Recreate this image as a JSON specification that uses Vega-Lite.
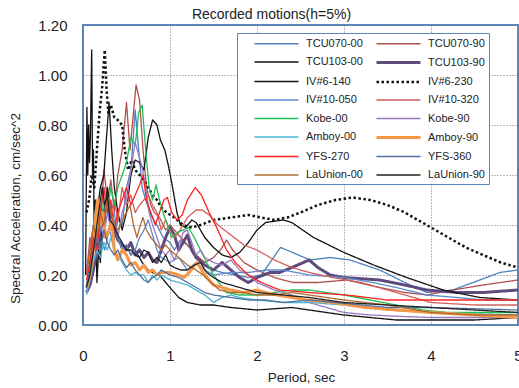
{
"$schema": "https://vega.github.io/schema/vega-lite/v6.json",
"width": 435, "height": 300,
"autosize": "none",
"padding": {"left": 83, "top": 25, "right": 1, "bottom": 63},
"background": "white",
"title": {"text": "Recorded motions(h=5%)", "font": "Liberation Sans", "fontSize": 14, "fontWeight": "normal", "color": "#222222", "offset": -4, "dx": -29},
"config": {"view": {"stroke": "#5B87C0", "strokeWidth": 2}, "font": "Liberation Sans"},
"datasets": {"spectra": [
{"series":"TCU070-00","T":0.04,"SA":0.15},{"series":"TCU070-00","T":0.08,"SA":0.2},{"series":"TCU070-00","T":0.12,"SA":0.28},{"series":"TCU070-00","T":0.16,"SA":0.24},{"series":"TCU070-00","T":0.2,"SA":0.35},{"series":"TCU070-00","T":0.25,"SA":0.3},{"series":"TCU070-00","T":0.3,"SA":0.38},{"series":"TCU070-00","T":0.35,"SA":0.33},{"series":"TCU070-00","T":0.4,"SA":0.42},{"series":"TCU070-00","T":0.45,"SA":0.4},{"series":"TCU070-00","T":0.5,"SA":0.55},{"series":"TCU070-00","T":0.55,"SA":0.62},{"series":"TCU070-00","T":0.6,"SA":0.86},{"series":"TCU070-00","T":0.64,"SA":0.7},{"series":"TCU070-00","T":0.68,"SA":0.55},{"series":"TCU070-00","T":0.72,"SA":0.5},{"series":"TCU070-00","T":0.78,"SA":0.44},{"series":"TCU070-00","T":0.85,"SA":0.4},{"series":"TCU070-00","T":0.92,"SA":0.35},{"series":"TCU070-00","T":1.0,"SA":0.33},{"series":"TCU070-00","T":1.05,"SA":0.3},{"series":"TCU070-00","T":1.12,"SA":0.34},{"series":"TCU070-00","T":1.2,"SA":0.32},{"series":"TCU070-00","T":1.3,"SA":0.28},{"series":"TCU070-00","T":1.4,"SA":0.24},{"series":"TCU070-00","T":1.5,"SA":0.22},{"series":"TCU070-00","T":1.6,"SA":0.21},{"series":"TCU070-00","T":1.75,"SA":0.2},{"series":"TCU070-00","T":1.9,"SA":0.19},{"series":"TCU070-00","T":2.05,"SA":0.2},{"series":"TCU070-00","T":2.15,"SA":0.25},{"series":"TCU070-00","T":2.27,"SA":0.31},{"series":"TCU070-00","T":2.41,"SA":0.29},{"series":"TCU070-00","T":2.61,"SA":0.26},{"series":"TCU070-00","T":2.84,"SA":0.27},{"series":"TCU070-00","T":3.07,"SA":0.26},{"series":"TCU070-00","T":3.41,"SA":0.22},{"series":"TCU070-00","T":3.7,"SA":0.17},{"series":"TCU070-00","T":3.95,"SA":0.13},{"series":"TCU070-00","T":4.25,"SA":0.14},{"series":"TCU070-00","T":4.56,"SA":0.18},{"series":"TCU070-00","T":4.79,"SA":0.21},{"series":"TCU070-00","T":5.0,"SA":0.22},
{"series":"TCU070-90","T":0.04,"SA":0.2},{"series":"TCU070-90","T":0.08,"SA":0.35},{"series":"TCU070-90","T":0.12,"SA":0.3},{"series":"TCU070-90","T":0.16,"SA":0.45},{"series":"TCU070-90","T":0.2,"SA":0.4},{"series":"TCU070-90","T":0.24,"SA":0.62},{"series":"TCU070-90","T":0.28,"SA":0.5},{"series":"TCU070-90","T":0.32,"SA":0.58},{"series":"TCU070-90","T":0.36,"SA":0.45},{"series":"TCU070-90","T":0.4,"SA":0.6},{"series":"TCU070-90","T":0.45,"SA":0.7},{"series":"TCU070-90","T":0.5,"SA":0.89},{"series":"TCU070-90","T":0.54,"SA":0.7},{"series":"TCU070-90","T":0.58,"SA":0.85},{"series":"TCU070-90","T":0.61,"SA":0.96},{"series":"TCU070-90","T":0.65,"SA":0.9},{"series":"TCU070-90","T":0.69,"SA":0.7},{"series":"TCU070-90","T":0.73,"SA":0.55},{"series":"TCU070-90","T":0.78,"SA":0.48},{"series":"TCU070-90","T":0.82,"SA":0.45},{"series":"TCU070-90","T":0.88,"SA":0.43},{"series":"TCU070-90","T":0.95,"SA":0.38},{"series":"TCU070-90","T":1.0,"SA":0.4},{"series":"TCU070-90","T":1.1,"SA":0.36},{"series":"TCU070-90","T":1.2,"SA":0.32},{"series":"TCU070-90","T":1.3,"SA":0.28},{"series":"TCU070-90","T":1.4,"SA":0.25},{"series":"TCU070-90","T":1.5,"SA":0.27},{"series":"TCU070-90","T":1.58,"SA":0.3},{"series":"TCU070-90","T":1.65,"SA":0.34},{"series":"TCU070-90","T":1.72,"SA":0.3},{"series":"TCU070-90","T":1.85,"SA":0.25},{"series":"TCU070-90","T":2.0,"SA":0.22},{"series":"TCU070-90","T":2.2,"SA":0.19},{"series":"TCU070-90","T":2.41,"SA":0.17},{"series":"TCU070-90","T":2.7,"SA":0.17},{"series":"TCU070-90","T":3.03,"SA":0.18},{"series":"TCU070-90","T":3.41,"SA":0.15},{"series":"TCU070-90","T":3.7,"SA":0.13},{"series":"TCU070-90","T":3.95,"SA":0.12},{"series":"TCU070-90","T":4.25,"SA":0.14},{"series":"TCU070-90","T":4.6,"SA":0.16},{"series":"TCU070-90","T":5.0,"SA":0.18},
{"series":"TCU103-00","T":0.03,"SA":0.2},{"series":"TCU103-00","T":0.045,"SA":0.87},{"series":"TCU103-00","T":0.055,"SA":0.6},{"series":"TCU103-00","T":0.065,"SA":0.8},{"series":"TCU103-00","T":0.075,"SA":0.65},{"series":"TCU103-00","T":0.085,"SA":0.75},{"series":"TCU103-00","T":0.1,"SA":1.1},{"series":"TCU103-00","T":0.11,"SA":0.6},{"series":"TCU103-00","T":0.12,"SA":0.7},{"series":"TCU103-00","T":0.13,"SA":0.3},{"series":"TCU103-00","T":0.14,"SA":0.5},{"series":"TCU103-00","T":0.16,"SA":0.17},{"series":"TCU103-00","T":0.18,"SA":0.3},{"series":"TCU103-00","T":0.2,"SA":0.25},{"series":"TCU103-00","T":0.22,"SA":0.45},{"series":"TCU103-00","T":0.25,"SA":0.4},{"series":"TCU103-00","T":0.28,"SA":0.55},{"series":"TCU103-00","T":0.32,"SA":0.45},{"series":"TCU103-00","T":0.36,"SA":0.38},{"series":"TCU103-00","T":0.4,"SA":0.35},{"series":"TCU103-00","T":0.45,"SA":0.3},{"series":"TCU103-00","T":0.5,"SA":0.32},{"series":"TCU103-00","T":0.55,"SA":0.28},{"series":"TCU103-00","T":0.6,"SA":0.3},{"series":"TCU103-00","T":0.68,"SA":0.25},{"series":"TCU103-00","T":0.75,"SA":0.22},{"series":"TCU103-00","T":0.8,"SA":0.21},{"series":"TCU103-00","T":0.88,"SA":0.2},{"series":"TCU103-00","T":0.95,"SA":0.17},{"series":"TCU103-00","T":1.0,"SA":0.15},{"series":"TCU103-00","T":1.1,"SA":0.11},{"series":"TCU103-00","T":1.2,"SA":0.09},{"series":"TCU103-00","T":1.35,"SA":0.08},{"series":"TCU103-00","T":1.5,"SA":0.08},{"series":"TCU103-00","T":1.7,"SA":0.07},{"series":"TCU103-00","T":1.85,"SA":0.065},{"series":"TCU103-00","T":2.0,"SA":0.06},{"series":"TCU103-00","T":2.2,"SA":0.065},{"series":"TCU103-00","T":2.4,"SA":0.07},{"series":"TCU103-00","T":2.6,"SA":0.06},{"series":"TCU103-00","T":2.8,"SA":0.05},{"series":"TCU103-00","T":3.0,"SA":0.04},{"series":"TCU103-00","T":3.3,"SA":0.03},{"series":"TCU103-00","T":3.6,"SA":0.02},{"series":"TCU103-00","T":4.0,"SA":0.02},{"series":"TCU103-00","T":4.5,"SA":0.02},{"series":"TCU103-00","T":5.0,"SA":0.03},
{"series":"TCU103-90","T":0.04,"SA":0.13},{"series":"TCU103-90","T":0.08,"SA":0.16},{"series":"TCU103-90","T":0.12,"SA":0.22},{"series":"TCU103-90","T":0.16,"SA":0.3},{"series":"TCU103-90","T":0.2,"SA":0.38},{"series":"TCU103-90","T":0.24,"SA":0.45},{"series":"TCU103-90","T":0.28,"SA":0.5},{"series":"TCU103-90","T":0.32,"SA":0.42},{"series":"TCU103-90","T":0.36,"SA":0.38},{"series":"TCU103-90","T":0.4,"SA":0.34},{"series":"TCU103-90","T":0.45,"SA":0.32},{"series":"TCU103-90","T":0.5,"SA":0.3},{"series":"TCU103-90","T":0.55,"SA":0.33},{"series":"TCU103-90","T":0.6,"SA":0.28},{"series":"TCU103-90","T":0.65,"SA":0.3},{"series":"TCU103-90","T":0.7,"SA":0.27},{"series":"TCU103-90","T":0.75,"SA":0.29},{"series":"TCU103-90","T":0.8,"SA":0.26},{"series":"TCU103-90","T":0.85,"SA":0.25},{"series":"TCU103-90","T":0.9,"SA":0.3},{"series":"TCU103-90","T":0.95,"SA":0.35},{"series":"TCU103-90","T":1.0,"SA":0.39},{"series":"TCU103-90","T":1.05,"SA":0.36},{"series":"TCU103-90","T":1.1,"SA":0.3},{"series":"TCU103-90","T":1.15,"SA":0.33},{"series":"TCU103-90","T":1.2,"SA":0.36},{"series":"TCU103-90","T":1.25,"SA":0.3},{"series":"TCU103-90","T":1.3,"SA":0.27},{"series":"TCU103-90","T":1.4,"SA":0.24},{"series":"TCU103-90","T":1.5,"SA":0.22},{"series":"TCU103-90","T":1.6,"SA":0.25},{"series":"TCU103-90","T":1.7,"SA":0.22},{"series":"TCU103-90","T":1.8,"SA":0.19},{"series":"TCU103-90","T":1.9,"SA":0.17},{"series":"TCU103-90","T":2.0,"SA":0.19},{"series":"TCU103-90","T":2.15,"SA":0.21},{"series":"TCU103-90","T":2.26,"SA":0.21},{"series":"TCU103-90","T":2.4,"SA":0.23},{"series":"TCU103-90","T":2.6,"SA":0.26},{"series":"TCU103-90","T":2.7,"SA":0.23},{"series":"TCU103-90","T":2.84,"SA":0.2},{"series":"TCU103-90","T":3.0,"SA":0.19},{"series":"TCU103-90","T":3.41,"SA":0.18},{"series":"TCU103-90","T":3.7,"SA":0.16},{"series":"TCU103-90","T":3.95,"SA":0.14},{"series":"TCU103-90","T":4.3,"SA":0.13},{"series":"TCU103-90","T":4.6,"SA":0.13},{"series":"TCU103-90","T":5.0,"SA":0.14},
{"series":"IV#6-140","T":0.04,"SA":0.15},{"series":"IV#6-140","T":0.08,"SA":0.25},{"series":"IV#6-140","T":0.12,"SA":0.35},{"series":"IV#6-140","T":0.16,"SA":0.45},{"series":"IV#6-140","T":0.2,"SA":0.55},{"series":"IV#6-140","T":0.24,"SA":0.6},{"series":"IV#6-140","T":0.27,"SA":0.75},{"series":"IV#6-140","T":0.3,"SA":0.89},{"series":"IV#6-140","T":0.33,"SA":0.7},{"series":"IV#6-140","T":0.36,"SA":0.55},{"series":"IV#6-140","T":0.4,"SA":0.45},{"series":"IV#6-140","T":0.45,"SA":0.38},{"series":"IV#6-140","T":0.5,"SA":0.45},{"series":"IV#6-140","T":0.55,"SA":0.6},{"series":"IV#6-140","T":0.6,"SA":0.66},{"series":"IV#6-140","T":0.65,"SA":0.65},{"series":"IV#6-140","T":0.7,"SA":0.62},{"series":"IV#6-140","T":0.75,"SA":0.75},{"series":"IV#6-140","T":0.8,"SA":0.82},{"series":"IV#6-140","T":0.85,"SA":0.8},{"series":"IV#6-140","T":0.89,"SA":0.74},{"series":"IV#6-140","T":0.94,"SA":0.7},{"series":"IV#6-140","T":0.98,"SA":0.64},{"series":"IV#6-140","T":1.03,"SA":0.55},{"series":"IV#6-140","T":1.08,"SA":0.45},{"series":"IV#6-140","T":1.12,"SA":0.4},{"series":"IV#6-140","T":1.18,"SA":0.39},{"series":"IV#6-140","T":1.25,"SA":0.42},{"series":"IV#6-140","T":1.3,"SA":0.41},{"series":"IV#6-140","T":1.4,"SA":0.35},{"series":"IV#6-140","T":1.5,"SA":0.31},{"series":"IV#6-140","T":1.6,"SA":0.28},{"series":"IV#6-140","T":1.7,"SA":0.27},{"series":"IV#6-140","T":1.8,"SA":0.29},{"series":"IV#6-140","T":1.9,"SA":0.33},{"series":"IV#6-140","T":2.0,"SA":0.38},{"series":"IV#6-140","T":2.1,"SA":0.41},{"series":"IV#6-140","T":2.3,"SA":0.42},{"series":"IV#6-140","T":2.4,"SA":0.41},{"series":"IV#6-140","T":2.65,"SA":0.35},{"series":"IV#6-140","T":3.0,"SA":0.29},{"series":"IV#6-140","T":3.34,"SA":0.24},{"series":"IV#6-140","T":3.72,"SA":0.19},{"series":"IV#6-140","T":4.14,"SA":0.14},{"series":"IV#6-140","T":4.56,"SA":0.11},{"series":"IV#6-140","T":5.0,"SA":0.1},
{"series":"IV#6-230","T":0.04,"SA":0.45},{"series":"IV#6-230","T":0.07,"SA":0.5},{"series":"IV#6-230","T":0.1,"SA":0.6},{"series":"IV#6-230","T":0.13,"SA":0.55},{"series":"IV#6-230","T":0.16,"SA":0.7},{"series":"IV#6-230","T":0.19,"SA":0.85},{"series":"IV#6-230","T":0.22,"SA":0.95},{"series":"IV#6-230","T":0.25,"SA":1.1},{"series":"IV#6-230","T":0.27,"SA":0.95},{"series":"IV#6-230","T":0.29,"SA":0.85},{"series":"IV#6-230","T":0.32,"SA":0.88},{"series":"IV#6-230","T":0.36,"SA":0.83},{"series":"IV#6-230","T":0.4,"SA":0.82},{"series":"IV#6-230","T":0.45,"SA":0.8},{"series":"IV#6-230","T":0.48,"SA":0.7},{"series":"IV#6-230","T":0.52,"SA":0.62},{"series":"IV#6-230","T":0.56,"SA":0.66},{"series":"IV#6-230","T":0.6,"SA":0.62},{"series":"IV#6-230","T":0.65,"SA":0.6},{"series":"IV#6-230","T":0.7,"SA":0.58},{"series":"IV#6-230","T":0.75,"SA":0.55},{"series":"IV#6-230","T":0.8,"SA":0.52},{"series":"IV#6-230","T":0.85,"SA":0.5},{"series":"IV#6-230","T":0.9,"SA":0.47},{"series":"IV#6-230","T":0.96,"SA":0.45},{"series":"IV#6-230","T":1.05,"SA":0.43},{"series":"IV#6-230","T":1.15,"SA":0.4},{"series":"IV#6-230","T":1.25,"SA":0.39},{"series":"IV#6-230","T":1.35,"SA":0.4},{"series":"IV#6-230","T":1.5,"SA":0.42},{"series":"IV#6-230","T":1.7,"SA":0.43},{"series":"IV#6-230","T":1.9,"SA":0.44},{"series":"IV#6-230","T":2.05,"SA":0.43},{"series":"IV#6-230","T":2.2,"SA":0.42},{"series":"IV#6-230","T":2.35,"SA":0.43},{"series":"IV#6-230","T":2.5,"SA":0.45},{"series":"IV#6-230","T":2.7,"SA":0.48},{"series":"IV#6-230","T":2.9,"SA":0.5},{"series":"IV#6-230","T":3.1,"SA":0.51},{"series":"IV#6-230","T":3.3,"SA":0.5},{"series":"IV#6-230","T":3.5,"SA":0.48},{"series":"IV#6-230","T":3.7,"SA":0.45},{"series":"IV#6-230","T":3.85,"SA":0.42},{"series":"IV#6-230","T":4.0,"SA":0.39},{"series":"IV#6-230","T":4.2,"SA":0.35},{"series":"IV#6-230","T":4.4,"SA":0.31},{"series":"IV#6-230","T":4.6,"SA":0.28},{"series":"IV#6-230","T":4.8,"SA":0.25},{"series":"IV#6-230","T":5.0,"SA":0.23},
{"series":"IV#10-050","T":0.04,"SA":0.2},{"series":"IV#10-050","T":0.08,"SA":0.3},{"series":"IV#10-050","T":0.12,"SA":0.4},{"series":"IV#10-050","T":0.16,"SA":0.5},{"series":"IV#10-050","T":0.2,"SA":0.45},{"series":"IV#10-050","T":0.24,"SA":0.55},{"series":"IV#10-050","T":0.28,"SA":0.48},{"series":"IV#10-050","T":0.32,"SA":0.4},{"series":"IV#10-050","T":0.36,"SA":0.45},{"series":"IV#10-050","T":0.4,"SA":0.35},{"series":"IV#10-050","T":0.45,"SA":0.3},{"series":"IV#10-050","T":0.5,"SA":0.32},{"series":"IV#10-050","T":0.55,"SA":0.28},{"series":"IV#10-050","T":0.6,"SA":0.3},{"series":"IV#10-050","T":0.65,"SA":0.35},{"series":"IV#10-050","T":0.7,"SA":0.38},{"series":"IV#10-050","T":0.75,"SA":0.42},{"series":"IV#10-050","T":0.8,"SA":0.36},{"series":"IV#10-050","T":0.85,"SA":0.3},{"series":"IV#10-050","T":0.9,"SA":0.27},{"series":"IV#10-050","T":1.0,"SA":0.25},{"series":"IV#10-050","T":1.1,"SA":0.27},{"series":"IV#10-050","T":1.2,"SA":0.22},{"series":"IV#10-050","T":1.3,"SA":0.25},{"series":"IV#10-050","T":1.4,"SA":0.22},{"series":"IV#10-050","T":1.5,"SA":0.2},{"series":"IV#10-050","T":1.7,"SA":0.21},{"series":"IV#10-050","T":1.9,"SA":0.21},{"series":"IV#10-050","T":2.1,"SA":0.22},{"series":"IV#10-050","T":2.3,"SA":0.22},{"series":"IV#10-050","T":2.6,"SA":0.2},{"series":"IV#10-050","T":3.0,"SA":0.19},{"series":"IV#10-050","T":3.33,"SA":0.17},{"series":"IV#10-050","T":3.6,"SA":0.15},{"series":"IV#10-050","T":3.95,"SA":0.12},{"series":"IV#10-050","T":4.3,"SA":0.11},{"series":"IV#10-050","T":4.6,"SA":0.1},{"series":"IV#10-050","T":5.0,"SA":0.1},
{"series":"IV#10-320","T":0.04,"SA":0.22},{"series":"IV#10-320","T":0.08,"SA":0.3},{"series":"IV#10-320","T":0.12,"SA":0.38},{"series":"IV#10-320","T":0.16,"SA":0.33},{"series":"IV#10-320","T":0.2,"SA":0.48},{"series":"IV#10-320","T":0.24,"SA":0.4},{"series":"IV#10-320","T":0.28,"SA":0.52},{"series":"IV#10-320","T":0.32,"SA":0.45},{"series":"IV#10-320","T":0.36,"SA":0.5},{"series":"IV#10-320","T":0.4,"SA":0.42},{"series":"IV#10-320","T":0.45,"SA":0.55},{"series":"IV#10-320","T":0.5,"SA":0.48},{"series":"IV#10-320","T":0.55,"SA":0.52},{"series":"IV#10-320","T":0.6,"SA":0.45},{"series":"IV#10-320","T":0.65,"SA":0.48},{"series":"IV#10-320","T":0.7,"SA":0.5},{"series":"IV#10-320","T":0.75,"SA":0.52},{"series":"IV#10-320","T":0.8,"SA":0.48},{"series":"IV#10-320","T":0.85,"SA":0.45},{"series":"IV#10-320","T":0.9,"SA":0.38},{"series":"IV#10-320","T":0.95,"SA":0.42},{"series":"IV#10-320","T":1.0,"SA":0.38},{"series":"IV#10-320","T":1.05,"SA":0.35},{"series":"IV#10-320","T":1.1,"SA":0.37},{"series":"IV#10-320","T":1.15,"SA":0.4},{"series":"IV#10-320","T":1.2,"SA":0.43},{"series":"IV#10-320","T":1.3,"SA":0.46},{"series":"IV#10-320","T":1.37,"SA":0.46},{"series":"IV#10-320","T":1.45,"SA":0.44},{"series":"IV#10-320","T":1.55,"SA":0.4},{"series":"IV#10-320","T":1.7,"SA":0.36},{"series":"IV#10-320","T":1.85,"SA":0.32},{"series":"IV#10-320","T":2.0,"SA":0.3},{"series":"IV#10-320","T":2.2,"SA":0.26},{"series":"IV#10-320","T":2.4,"SA":0.23},{"series":"IV#10-320","T":2.6,"SA":0.21},{"series":"IV#10-320","T":2.87,"SA":0.19},{"series":"IV#10-320","T":3.2,"SA":0.17},{"series":"IV#10-320","T":3.5,"SA":0.14},{"series":"IV#10-320","T":3.8,"SA":0.11},{"series":"IV#10-320","T":4.0,"SA":0.09},{"series":"IV#10-320","T":4.5,"SA":0.08},{"series":"IV#10-320","T":5.0,"SA":0.08},
{"series":"Kobe-00","T":0.04,"SA":0.15},{"series":"Kobe-00","T":0.08,"SA":0.22},{"series":"Kobe-00","T":0.12,"SA":0.3},{"series":"Kobe-00","T":0.16,"SA":0.45},{"series":"Kobe-00","T":0.2,"SA":0.4},{"series":"Kobe-00","T":0.24,"SA":0.5},{"series":"Kobe-00","T":0.28,"SA":0.45},{"series":"Kobe-00","T":0.32,"SA":0.55},{"series":"Kobe-00","T":0.36,"SA":0.48},{"series":"Kobe-00","T":0.4,"SA":0.55},{"series":"Kobe-00","T":0.45,"SA":0.6},{"series":"Kobe-00","T":0.5,"SA":0.65},{"series":"Kobe-00","T":0.55,"SA":0.75},{"series":"Kobe-00","T":0.6,"SA":0.72},{"series":"Kobe-00","T":0.64,"SA":0.85},{"series":"Kobe-00","T":0.68,"SA":0.88},{"series":"Kobe-00","T":0.72,"SA":0.7},{"series":"Kobe-00","T":0.76,"SA":0.55},{"series":"Kobe-00","T":0.8,"SA":0.5},{"series":"Kobe-00","T":0.84,"SA":0.56},{"series":"Kobe-00","T":0.88,"SA":0.5},{"series":"Kobe-00","T":0.92,"SA":0.45},{"series":"Kobe-00","T":0.97,"SA":0.4},{"series":"Kobe-00","T":1.02,"SA":0.35},{"series":"Kobe-00","T":1.08,"SA":0.37},{"series":"Kobe-00","T":1.15,"SA":0.38},{"series":"Kobe-00","T":1.21,"SA":0.39},{"series":"Kobe-00","T":1.28,"SA":0.35},{"series":"Kobe-00","T":1.35,"SA":0.3},{"series":"Kobe-00","T":1.42,"SA":0.25},{"series":"Kobe-00","T":1.5,"SA":0.2},{"series":"Kobe-00","T":1.58,"SA":0.16},{"series":"Kobe-00","T":1.65,"SA":0.13},{"series":"Kobe-00","T":1.8,"SA":0.12},{"series":"Kobe-00","T":2.0,"SA":0.12},{"series":"Kobe-00","T":2.2,"SA":0.13},{"series":"Kobe-00","T":2.4,"SA":0.14},{"series":"Kobe-00","T":2.6,"SA":0.14},{"series":"Kobe-00","T":2.8,"SA":0.13},{"series":"Kobe-00","T":3.0,"SA":0.12},{"series":"Kobe-00","T":3.3,"SA":0.1},{"series":"Kobe-00","T":3.6,"SA":0.08},{"series":"Kobe-00","T":3.9,"SA":0.06},{"series":"Kobe-00","T":4.2,"SA":0.05},{"series":"Kobe-00","T":4.6,"SA":0.05},{"series":"Kobe-00","T":5.0,"SA":0.05},
{"series":"Kobe-90","T":0.04,"SA":0.13},{"series":"Kobe-90","T":0.08,"SA":0.18},{"series":"Kobe-90","T":0.12,"SA":0.25},{"series":"Kobe-90","T":0.16,"SA":0.3},{"series":"Kobe-90","T":0.2,"SA":0.4},{"series":"Kobe-90","T":0.24,"SA":0.35},{"series":"Kobe-90","T":0.28,"SA":0.45},{"series":"Kobe-90","T":0.32,"SA":0.38},{"series":"Kobe-90","T":0.36,"SA":0.42},{"series":"Kobe-90","T":0.4,"SA":0.35},{"series":"Kobe-90","T":0.45,"SA":0.45},{"series":"Kobe-90","T":0.5,"SA":0.5},{"series":"Kobe-90","T":0.55,"SA":0.62},{"series":"Kobe-90","T":0.6,"SA":0.73},{"series":"Kobe-90","T":0.64,"SA":0.68},{"series":"Kobe-90","T":0.68,"SA":0.63},{"series":"Kobe-90","T":0.72,"SA":0.55},{"series":"Kobe-90","T":0.76,"SA":0.45},{"series":"Kobe-90","T":0.8,"SA":0.4},{"series":"Kobe-90","T":0.85,"SA":0.35},{"series":"Kobe-90","T":0.9,"SA":0.3},{"series":"Kobe-90","T":0.95,"SA":0.28},{"series":"Kobe-90","T":1.0,"SA":0.3},{"series":"Kobe-90","T":1.05,"SA":0.26},{"series":"Kobe-90","T":1.1,"SA":0.3},{"series":"Kobe-90","T":1.15,"SA":0.37},{"series":"Kobe-90","T":1.2,"SA":0.38},{"series":"Kobe-90","T":1.25,"SA":0.33},{"series":"Kobe-90","T":1.3,"SA":0.28},{"series":"Kobe-90","T":1.35,"SA":0.3},{"series":"Kobe-90","T":1.4,"SA":0.27},{"series":"Kobe-90","T":1.5,"SA":0.25},{"series":"Kobe-90","T":1.6,"SA":0.24},{"series":"Kobe-90","T":1.7,"SA":0.26},{"series":"Kobe-90","T":1.8,"SA":0.22},{"series":"Kobe-90","T":1.9,"SA":0.2},{"series":"Kobe-90","T":2.0,"SA":0.17},{"series":"Kobe-90","T":2.2,"SA":0.14},{"series":"Kobe-90","T":2.4,"SA":0.12},{"series":"Kobe-90","T":2.6,"SA":0.09},{"series":"Kobe-90","T":2.8,"SA":0.07},{"series":"Kobe-90","T":3.0,"SA":0.05},{"series":"Kobe-90","T":3.3,"SA":0.04},{"series":"Kobe-90","T":3.6,"SA":0.035},{"series":"Kobe-90","T":4.0,"SA":0.03},{"series":"Kobe-90","T":4.5,"SA":0.03},{"series":"Kobe-90","T":5.0,"SA":0.03},
{"series":"Amboy-00","T":0.04,"SA":0.12},{"series":"Amboy-00","T":0.08,"SA":0.18},{"series":"Amboy-00","T":0.12,"SA":0.25},{"series":"Amboy-00","T":0.16,"SA":0.3},{"series":"Amboy-00","T":0.2,"SA":0.27},{"series":"Amboy-00","T":0.24,"SA":0.33},{"series":"Amboy-00","T":0.28,"SA":0.3},{"series":"Amboy-00","T":0.32,"SA":0.35},{"series":"Amboy-00","T":0.36,"SA":0.3},{"series":"Amboy-00","T":0.4,"SA":0.28},{"series":"Amboy-00","T":0.45,"SA":0.25},{"series":"Amboy-00","T":0.5,"SA":0.22},{"series":"Amboy-00","T":0.55,"SA":0.2},{"series":"Amboy-00","T":0.6,"SA":0.21},{"series":"Amboy-00","T":0.65,"SA":0.2},{"series":"Amboy-00","T":0.7,"SA":0.2},{"series":"Amboy-00","T":0.75,"SA":0.17},{"series":"Amboy-00","T":0.8,"SA":0.2},{"series":"Amboy-00","T":0.85,"SA":0.18},{"series":"Amboy-00","T":0.9,"SA":0.2},{"series":"Amboy-00","T":0.95,"SA":0.19},{"series":"Amboy-00","T":1.0,"SA":0.18},{"series":"Amboy-00","T":1.1,"SA":0.17},{"series":"Amboy-00","T":1.2,"SA":0.16},{"series":"Amboy-00","T":1.3,"SA":0.14},{"series":"Amboy-00","T":1.4,"SA":0.12},{"series":"Amboy-00","T":1.5,"SA":0.09},{"series":"Amboy-00","T":1.6,"SA":0.11},{"series":"Amboy-00","T":1.7,"SA":0.12},{"series":"Amboy-00","T":1.8,"SA":0.11},{"series":"Amboy-00","T":2.0,"SA":0.1},{"series":"Amboy-00","T":2.3,"SA":0.09},{"series":"Amboy-00","T":2.6,"SA":0.09},{"series":"Amboy-00","T":3.0,"SA":0.08},{"series":"Amboy-00","T":3.5,"SA":0.06},{"series":"Amboy-00","T":4.0,"SA":0.05},{"series":"Amboy-00","T":4.5,"SA":0.045},{"series":"Amboy-00","T":5.0,"SA":0.04},
{"series":"Amboy-90","T":0.04,"SA":0.15},{"series":"Amboy-90","T":0.08,"SA":0.2},{"series":"Amboy-90","T":0.12,"SA":0.3},{"series":"Amboy-90","T":0.15,"SA":0.45},{"series":"Amboy-90","T":0.17,"SA":0.5},{"series":"Amboy-90","T":0.2,"SA":0.4},{"series":"Amboy-90","T":0.23,"SA":0.45},{"series":"Amboy-90","T":0.26,"SA":0.35},{"series":"Amboy-90","T":0.3,"SA":0.38},{"series":"Amboy-90","T":0.33,"SA":0.42},{"series":"Amboy-90","T":0.36,"SA":0.3},{"series":"Amboy-90","T":0.4,"SA":0.26},{"series":"Amboy-90","T":0.45,"SA":0.3},{"series":"Amboy-90","T":0.5,"SA":0.28},{"series":"Amboy-90","T":0.55,"SA":0.24},{"series":"Amboy-90","T":0.6,"SA":0.25},{"series":"Amboy-90","T":0.65,"SA":0.22},{"series":"Amboy-90","T":0.7,"SA":0.24},{"series":"Amboy-90","T":0.75,"SA":0.21},{"series":"Amboy-90","T":0.8,"SA":0.22},{"series":"Amboy-90","T":0.85,"SA":0.2},{"series":"Amboy-90","T":0.9,"SA":0.21},{"series":"Amboy-90","T":1.0,"SA":0.21},{"series":"Amboy-90","T":1.1,"SA":0.2},{"series":"Amboy-90","T":1.16,"SA":0.19},{"series":"Amboy-90","T":1.22,"SA":0.21},{"series":"Amboy-90","T":1.31,"SA":0.25},{"series":"Amboy-90","T":1.4,"SA":0.2},{"series":"Amboy-90","T":1.5,"SA":0.16},{"series":"Amboy-90","T":1.6,"SA":0.15},{"series":"Amboy-90","T":1.7,"SA":0.14},{"series":"Amboy-90","T":1.85,"SA":0.13},{"series":"Amboy-90","T":2.0,"SA":0.14},{"series":"Amboy-90","T":2.1,"SA":0.13},{"series":"Amboy-90","T":2.23,"SA":0.12},{"series":"Amboy-90","T":2.4,"SA":0.11},{"series":"Amboy-90","T":2.57,"SA":0.1},{"series":"Amboy-90","T":2.87,"SA":0.09},{"series":"Amboy-90","T":3.25,"SA":0.07},{"series":"Amboy-90","T":3.6,"SA":0.06},{"series":"Amboy-90","T":4.0,"SA":0.05},{"series":"Amboy-90","T":4.5,"SA":0.04},{"series":"Amboy-90","T":5.0,"SA":0.03},
{"series":"YFS-270","T":0.04,"SA":0.18},{"series":"YFS-270","T":0.08,"SA":0.25},{"series":"YFS-270","T":0.12,"SA":0.35},{"series":"YFS-270","T":0.16,"SA":0.3},{"series":"YFS-270","T":0.2,"SA":0.45},{"series":"YFS-270","T":0.24,"SA":0.55},{"series":"YFS-270","T":0.28,"SA":0.45},{"series":"YFS-270","T":0.32,"SA":0.5},{"series":"YFS-270","T":0.36,"SA":0.38},{"series":"YFS-270","T":0.4,"SA":0.45},{"series":"YFS-270","T":0.45,"SA":0.5},{"series":"YFS-270","T":0.5,"SA":0.55},{"series":"YFS-270","T":0.55,"SA":0.48},{"series":"YFS-270","T":0.6,"SA":0.52},{"series":"YFS-270","T":0.65,"SA":0.56},{"series":"YFS-270","T":0.69,"SA":0.6},{"series":"YFS-270","T":0.73,"SA":0.5},{"series":"YFS-270","T":0.78,"SA":0.45},{"series":"YFS-270","T":0.83,"SA":0.4},{"series":"YFS-270","T":0.88,"SA":0.45},{"series":"YFS-270","T":0.93,"SA":0.5},{"series":"YFS-270","T":0.97,"SA":0.51},{"series":"YFS-270","T":1.02,"SA":0.45},{"series":"YFS-270","T":1.08,"SA":0.42},{"series":"YFS-270","T":1.14,"SA":0.44},{"series":"YFS-270","T":1.2,"SA":0.5},{"series":"YFS-270","T":1.29,"SA":0.55},{"series":"YFS-270","T":1.36,"SA":0.52},{"series":"YFS-270","T":1.45,"SA":0.45},{"series":"YFS-270","T":1.55,"SA":0.38},{"series":"YFS-270","T":1.65,"SA":0.3},{"series":"YFS-270","T":1.75,"SA":0.25},{"series":"YFS-270","T":1.9,"SA":0.2},{"series":"YFS-270","T":2.05,"SA":0.17},{"series":"YFS-270","T":2.26,"SA":0.14},{"series":"YFS-270","T":2.6,"SA":0.13},{"series":"YFS-270","T":3.03,"SA":0.12},{"series":"YFS-270","T":3.5,"SA":0.1},{"series":"YFS-270","T":3.95,"SA":0.1},{"series":"YFS-270","T":4.5,"SA":0.1},{"series":"YFS-270","T":5.0,"SA":0.1},
{"series":"YFS-360","T":0.04,"SA":0.16},{"series":"YFS-360","T":0.08,"SA":0.22},{"series":"YFS-360","T":0.12,"SA":0.3},{"series":"YFS-360","T":0.16,"SA":0.35},{"series":"YFS-360","T":0.2,"SA":0.3},{"series":"YFS-360","T":0.24,"SA":0.38},{"series":"YFS-360","T":0.28,"SA":0.33},{"series":"YFS-360","T":0.32,"SA":0.3},{"series":"YFS-360","T":0.36,"SA":0.28},{"series":"YFS-360","T":0.4,"SA":0.3},{"series":"YFS-360","T":0.45,"SA":0.26},{"series":"YFS-360","T":0.5,"SA":0.23},{"series":"YFS-360","T":0.55,"SA":0.25},{"series":"YFS-360","T":0.6,"SA":0.22},{"series":"YFS-360","T":0.65,"SA":0.2},{"series":"YFS-360","T":0.7,"SA":0.18},{"series":"YFS-360","T":0.75,"SA":0.17},{"series":"YFS-360","T":0.8,"SA":0.19},{"series":"YFS-360","T":0.85,"SA":0.2},{"series":"YFS-360","T":0.9,"SA":0.22},{"series":"YFS-360","T":1.0,"SA":0.2},{"series":"YFS-360","T":1.1,"SA":0.19},{"series":"YFS-360","T":1.2,"SA":0.17},{"series":"YFS-360","T":1.3,"SA":0.15},{"series":"YFS-360","T":1.4,"SA":0.13},{"series":"YFS-360","T":1.5,"SA":0.12},{"series":"YFS-360","T":1.7,"SA":0.11},{"series":"YFS-360","T":1.9,"SA":0.1},{"series":"YFS-360","T":2.1,"SA":0.1},{"series":"YFS-360","T":2.3,"SA":0.09},{"series":"YFS-360","T":2.6,"SA":0.1},{"series":"YFS-360","T":2.9,"SA":0.09},{"series":"YFS-360","T":3.2,"SA":0.08},{"series":"YFS-360","T":3.5,"SA":0.07},{"series":"YFS-360","T":4.0,"SA":0.07},{"series":"YFS-360","T":4.5,"SA":0.065},{"series":"YFS-360","T":5.0,"SA":0.06},
{"series":"LaUnion-00","T":0.04,"SA":0.2},{"series":"LaUnion-00","T":0.08,"SA":0.3},{"series":"LaUnion-00","T":0.12,"SA":0.4},{"series":"LaUnion-00","T":0.16,"SA":0.35},{"series":"LaUnion-00","T":0.2,"SA":0.45},{"series":"LaUnion-00","T":0.24,"SA":0.4},{"series":"LaUnion-00","T":0.28,"SA":0.5},{"series":"LaUnion-00","T":0.32,"SA":0.45},{"series":"LaUnion-00","T":0.36,"SA":0.4},{"series":"LaUnion-00","T":0.4,"SA":0.38},{"series":"LaUnion-00","T":0.45,"SA":0.42},{"series":"LaUnion-00","T":0.5,"SA":0.45},{"series":"LaUnion-00","T":0.54,"SA":0.48},{"series":"LaUnion-00","T":0.58,"SA":0.4},{"series":"LaUnion-00","T":0.62,"SA":0.35},{"series":"LaUnion-00","T":0.66,"SA":0.4},{"series":"LaUnion-00","T":0.69,"SA":0.43},{"series":"LaUnion-00","T":0.73,"SA":0.38},{"series":"LaUnion-00","T":0.78,"SA":0.35},{"series":"LaUnion-00","T":0.85,"SA":0.32},{"series":"LaUnion-00","T":0.9,"SA":0.3},{"series":"LaUnion-00","T":0.95,"SA":0.32},{"series":"LaUnion-00","T":1.0,"SA":0.3},{"series":"LaUnion-00","T":1.1,"SA":0.27},{"series":"LaUnion-00","T":1.2,"SA":0.24},{"series":"LaUnion-00","T":1.3,"SA":0.22},{"series":"LaUnion-00","T":1.38,"SA":0.2},{"series":"LaUnion-00","T":1.47,"SA":0.17},{"series":"LaUnion-00","T":1.57,"SA":0.14},{"series":"LaUnion-00","T":1.7,"SA":0.13},{"series":"LaUnion-00","T":1.85,"SA":0.13},{"series":"LaUnion-00","T":2.0,"SA":0.12},{"series":"LaUnion-00","T":2.2,"SA":0.12},{"series":"LaUnion-00","T":2.4,"SA":0.13},{"series":"LaUnion-00","T":2.6,"SA":0.12},{"series":"LaUnion-00","T":3.0,"SA":0.1},{"series":"LaUnion-00","T":3.5,"SA":0.08},{"series":"LaUnion-00","T":4.0,"SA":0.05},{"series":"LaUnion-00","T":4.5,"SA":0.04},{"series":"LaUnion-00","T":5.0,"SA":0.04},
{"series":"LaUnion-90","T":0.04,"SA":0.15},{"series":"LaUnion-90","T":0.08,"SA":0.2},{"series":"LaUnion-90","T":0.12,"SA":0.3},{"series":"LaUnion-90","T":0.16,"SA":0.4},{"series":"LaUnion-90","T":0.2,"SA":0.5},{"series":"LaUnion-90","T":0.22,"SA":0.55},{"series":"LaUnion-90","T":0.25,"SA":0.48},{"series":"LaUnion-90","T":0.28,"SA":0.52},{"series":"LaUnion-90","T":0.31,"SA":0.42},{"series":"LaUnion-90","T":0.35,"SA":0.4},{"series":"LaUnion-90","T":0.4,"SA":0.36},{"series":"LaUnion-90","T":0.45,"SA":0.33},{"series":"LaUnion-90","T":0.5,"SA":0.3},{"series":"LaUnion-90","T":0.55,"SA":0.3},{"series":"LaUnion-90","T":0.6,"SA":0.28},{"series":"LaUnion-90","T":0.65,"SA":0.27},{"series":"LaUnion-90","T":0.7,"SA":0.3},{"series":"LaUnion-90","T":0.75,"SA":0.29},{"series":"LaUnion-90","T":0.8,"SA":0.25},{"series":"LaUnion-90","T":0.85,"SA":0.27},{"series":"LaUnion-90","T":0.9,"SA":0.25},{"series":"LaUnion-90","T":0.95,"SA":0.28},{"series":"LaUnion-90","T":1.0,"SA":0.24},{"series":"LaUnion-90","T":1.05,"SA":0.23},{"series":"LaUnion-90","T":1.12,"SA":0.22},{"series":"LaUnion-90","T":1.2,"SA":0.22},{"series":"LaUnion-90","T":1.28,"SA":0.24},{"series":"LaUnion-90","T":1.35,"SA":0.25},{"series":"LaUnion-90","T":1.42,"SA":0.21},{"series":"LaUnion-90","T":1.5,"SA":0.19},{"series":"LaUnion-90","T":1.6,"SA":0.17},{"series":"LaUnion-90","T":1.8,"SA":0.15},{"series":"LaUnion-90","T":2.0,"SA":0.13},{"series":"LaUnion-90","T":2.3,"SA":0.12},{"series":"LaUnion-90","T":2.6,"SA":0.11},{"series":"LaUnion-90","T":3.0,"SA":0.09},{"series":"LaUnion-90","T":3.5,"SA":0.08},{"series":"LaUnion-90","T":4.0,"SA":0.07},{"series":"LaUnion-90","T":4.5,"SA":0.06},{"series":"LaUnion-90","T":5.0,"SA":0.05}
]},
"data": {"name": "spectra"},
"mark": {"type": "line", "clip": true, "strokeJoin": "round"},
"encoding": {
  "x": {"field": "T", "type": "quantitative", "scale": {"domain": [0, 5], "nice": false},
    "axis": {"title": "Period, sec", "values": [0, 1, 2, 3, 4, 5], "format": "d", "grid": true, "gridDash": [1, 2], "gridColor": "#777777", "domain": false, "ticks": false, "labelFontSize": 15, "labelPadding": 23, "labelColor": "#222222", "labelFlush": false, "labelFont": "Liberation Sans", "titleFont": "Liberation Sans", "titleFontSize": 13.5, "titleFontWeight": "normal", "titleColor": "#222222", "titleX": 218, "titleY": 52, "titleBaseline": "middle", "titleAlign": "center"}},
  "y": {"field": "SA", "type": "quantitative", "scale": {"domain": [0, 1.2], "nice": false},
    "axis": {"title": "Spectral Acceleration, cm/sec^2", "values": [0, 0.2, 0.4, 0.6, 0.8, 1.0, 1.2], "format": ".2f", "grid": true, "gridDash": [1, 2], "gridColor": "#777777", "domain": false, "ticks": false, "labelFontSize": 15, "labelPadding": 16, "labelColor": "#222222", "labelFlush": false, "labelFont": "Liberation Sans", "titleFont": "Liberation Sans", "titleFontSize": 13.5, "titleFontWeight": "normal", "titleColor": "#222222", "titleX": -68, "titleY": 183, "titleAngle": -90, "titleBaseline": "middle", "titleAlign": "center"}},
  "color": {"field": "series", "type": "nominal",
    "scale": {"domain": ["TCU070-00","TCU070-90","TCU103-00","TCU103-90","IV#6-140","IV#6-230","IV#10-050","IV#10-320","Kobe-00","Kobe-90","Amboy-00","Amboy-90","YFS-270","YFS-360","LaUnion-00","LaUnion-90"],
      "range": ["#4F81BD","#B0504E","#111111","#5F4A7E","#111111","#111111","#5B8BCB","#D0605E","#1FBF55","#9679C0","#4BB4D0","#F79646","#FF2020","#50709F","#B0692E","#222222"]},
    "legend": {"title": null, "orient": "none", "legendX": 154, "legendY": 8, "direction": "horizontal", "columns": 2, "symbolType": "M-1,0L7,0", "symbolSize": 121, "symbolOffset": 12, "labelFontSize": 11, "labelFont": "Liberation Sans", "labelColor": "#222222", "labelOffset": 39, "columnPadding": 0, "rowPadding": 6.5, "padding": 4, "strokeColor": "#5B87C0", "fillColor": "white", "labelExpr": "datum.label + '      '"}},
  "strokeDash": {"field": "series", "type": "nominal",
    "scale": {"domain": ["TCU070-00","TCU070-90","TCU103-00","TCU103-90","IV#6-140","IV#6-230","IV#10-050","IV#10-320","Kobe-00","Kobe-90","Amboy-00","Amboy-90","YFS-270","YFS-360","LaUnion-00","LaUnion-90"],
      "range": [[1,0],[1,0],[1,0],[1,0],[1,0],[2.5,2.5],[1,0],[1,0],[1,0],[1,0],[1,0],[1,0],[1,0],[1,0],[1,0],[1,0]]}},
  "strokeWidth": {"field": "series", "type": "nominal",
    "scale": {"type": "ordinal", "domain": ["TCU070-00","TCU070-90","TCU103-00","TCU103-90","IV#6-140","IV#6-230","IV#10-050","IV#10-320","Kobe-00","Kobe-90","Amboy-00","Amboy-90","YFS-270","YFS-360","LaUnion-00","LaUnion-90"],
      "range": [1.3,1.3,1.3,3,1.3,2.5,1.3,1.3,1.3,1.3,1.3,3,1.3,1.3,1.3,1.3]}}
}
}
